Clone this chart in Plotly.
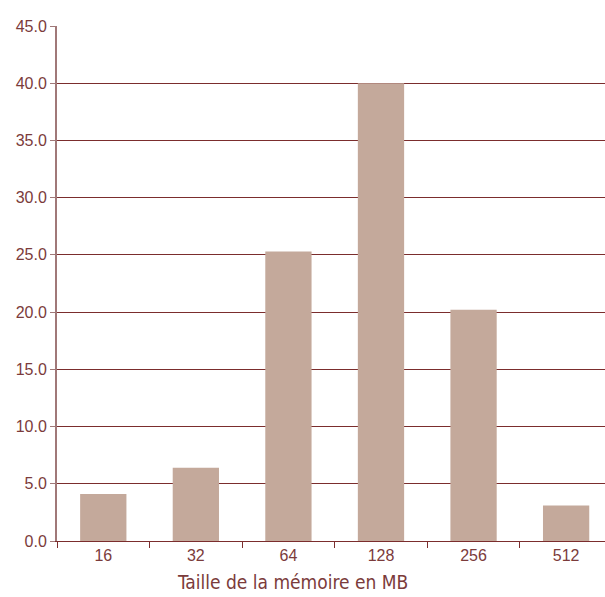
import plotly.graph_objects as go

categories = ["16", "32", "64", "128", "256", "512"]
values = [4.1, 6.4, 25.3, 40.0, 20.2, 3.1]
y_ticks = [0, 5, 10, 15, 20, 25, 30, 35, 40, 45]

txt = "#7b3b3b"
grid = "#7b2d2d"

fig = go.Figure(go.Bar(x=categories, y=values, marker_color="#c4a99b",
                       marker_line_width=0, width=0.5))
fig.update_layout(
    width=605, height=597, margin=dict(l=57, r=0, t=26, b=56),
    plot_bgcolor="white", paper_bgcolor="white", showlegend=False,
    font=dict(family="Liberation Sans, Arial, sans-serif", size=16, color=txt),
    bargap=0.5,
)
fig.update_xaxes(type="category", range=[-0.5, 5.42], showline=True, linecolor=grid,
                 linewidth=1, ticks="outside", tickson="boundaries", ticklen=6,
                 tickcolor=grid, showgrid=False, tickfont=dict(size=16, color=txt))
fig.update_yaxes(range=[0, 45], tickvals=y_ticks, tickformat=".1f", showline=True,
                 linecolor="#a07878", linewidth=2, ticks="outside", ticklen=5,
                 tickcolor="#a07878", gridcolor=grid, gridwidth=1, zeroline=False,
                 tickfont=dict(size=16, color=txt))
fig.add_annotation(text="Taille de la mémoire en MB", xref="paper", yref="paper",
                   x=0.429, y=0, yshift=-41, yanchor="middle", showarrow=False,
                   font=dict(family="Liberation Sans Narrow, DejaVu Sans Condensed, Liberation Sans, sans-serif",
                             size=19, color=txt))
fig.write_html("out.html")
